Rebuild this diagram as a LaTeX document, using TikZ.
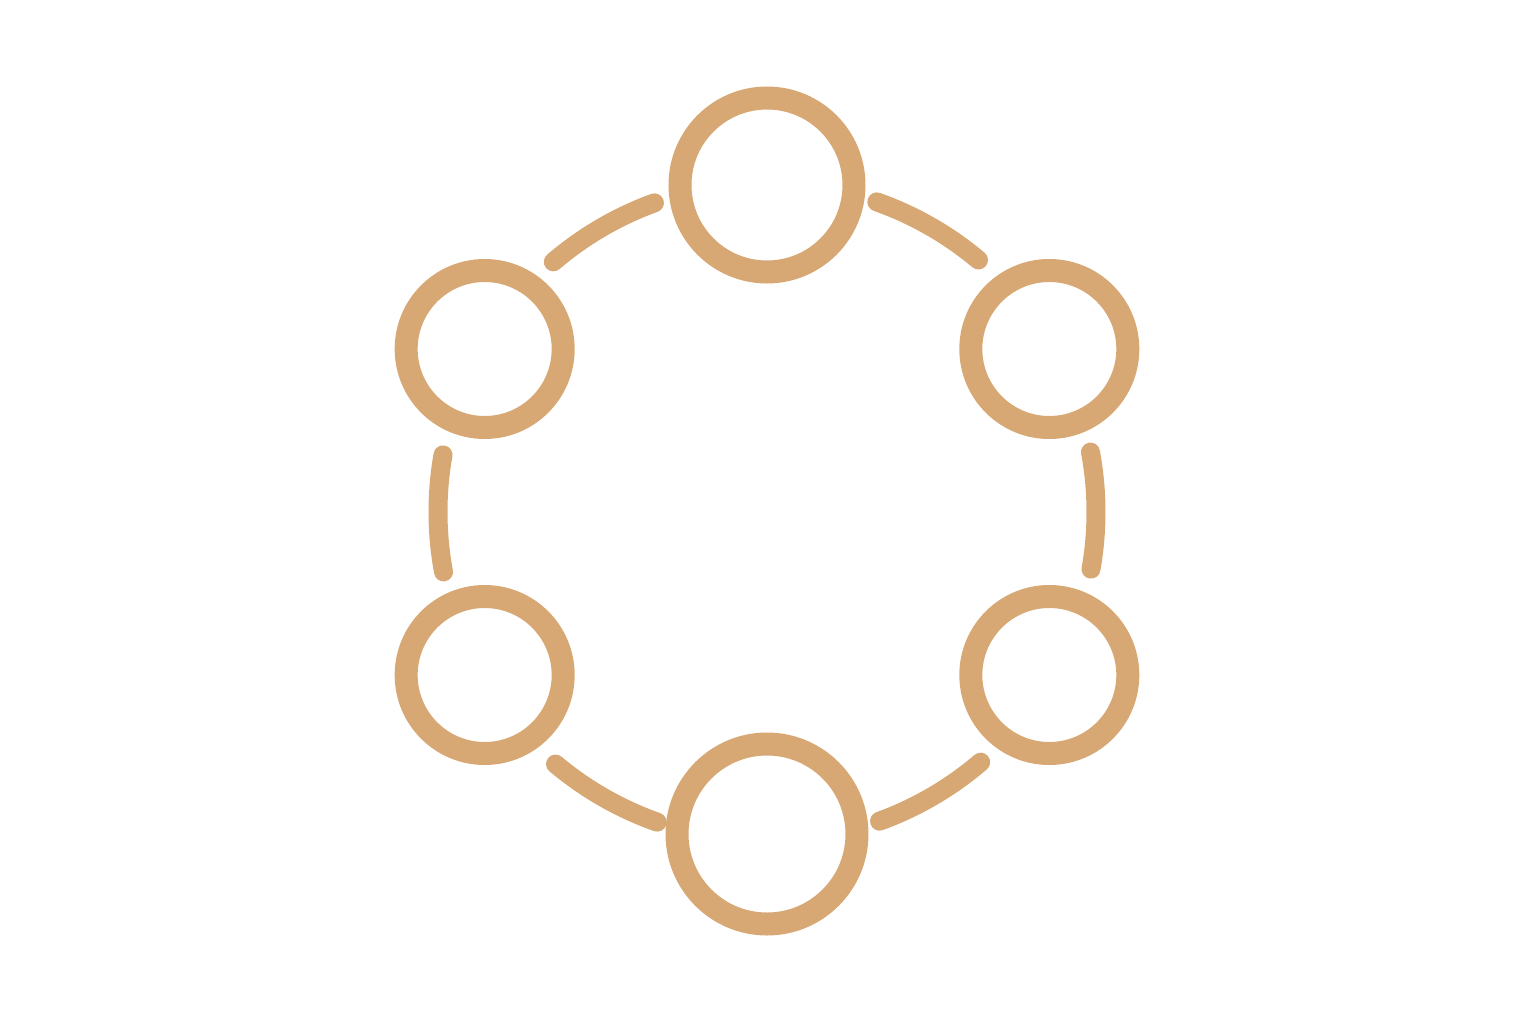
\documentclass[tikz,border=0pt]{standalone}
\usepackage{tikz}
\usetikzlibrary{positioning,calc}
\definecolor{sand}{RGB}{215,168,116}
\colorlet{c1}{sand}

\begin{document}
\begin{tikzpicture}[x=0.5pt, y=0.5pt, line cap=round]
\tikzstyle{hub}=[circle, draw=c1, fill=white, line width=11.5pt, inner sep=0pt, outer sep=0pt]
\tikzstyle{link}=[draw=c1, line width=9.5pt, line cap=round]
\useasboundingbox (-767,-512) rectangle (769,512);
\coordinate (ring) at (0,0);
% six circles round the ring
\node[hub, minimum size=87pt] (top)      at (90:327)  {};
\node[hub, minimum size=78.5pt] (upleft)  at (150:326) {};
\node[hub, minimum size=78.5pt] (upright) at (30:326)  {};
\node[hub, minimum size=78.5pt] (lowleft) at (210:326) {};
\node[hub, minimum size=78.5pt] (lowright) at (330:326) {};
\node[hub, minimum size=90pt] (bottom)   at (270:322) {};
% arcs in the gaps
\foreach \a in {30,90,...,330}
  \draw[link] ([shift={({\a+20}:329)}]ring) arc[start angle=\a+20, end angle=\a+40.5, radius=329];
\end{tikzpicture}
\end{document}
